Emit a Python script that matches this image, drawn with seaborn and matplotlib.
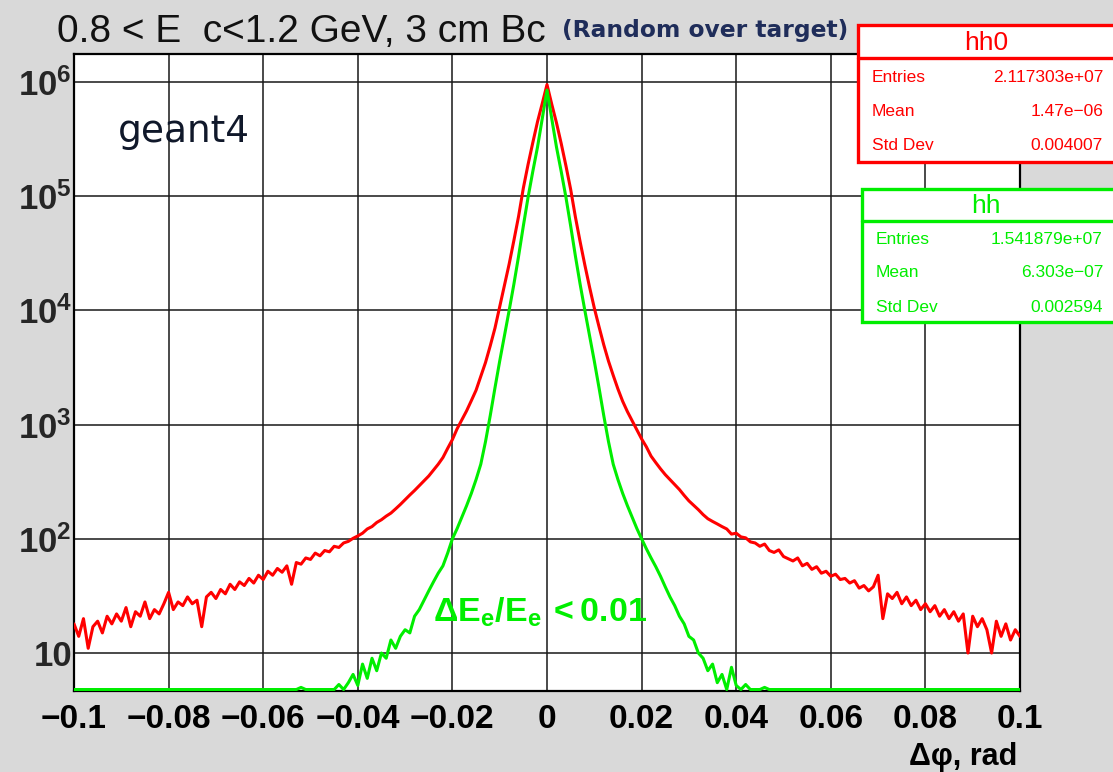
import numpy as np
import pandas as pd
import matplotlib
matplotlib.use("Agg")
import matplotlib.pyplot as plt
import seaborn as sns
from matplotlib.patches import Rectangle
from matplotlib.lines import Line2D
from matplotlib.ticker import FixedLocator, NullFormatter

# ---------------- data ----------------
# bin centres
x_left_tail = np.round(np.arange(-0.100, -0.0205, 0.001), 4)   # -0.100 .. -0.021
x_center = np.round(np.arange(-0.020, 0.0205, 0.001), 4)        # -0.020 .. 0.020
x_right_tail = np.round(np.arange(0.021, 0.1005, 0.001), 4)     # 0.021 .. 0.100

# hh0 (red, all events)
red_left_tail = [18, 14, 20, 11, 17, 19, 15, 21, 18, 22,
                 19, 25, 17, 23, 21, 28, 20, 24, 22, 27,
                 34, 24, 28, 26, 31, 27, 29, 17, 31, 34,
                 30, 36, 33, 40, 36, 42, 39, 45, 41, 48,
                 44, 52, 48, 55, 51, 58, 40, 62, 60, 68,
                 66, 75, 71, 79, 77, 86, 84, 92, 95, 101,
                 106, 112, 122, 128, 139, 147, 158, 168, 183, 200,
                 220, 242, 265, 292, 322, 355, 400, 450, 515, 620]
red_center = [740, 920, 1100, 1320, 1620, 2000, 2650, 3500, 4900, 7000, 10800, 16500, 25500, 41000,
              67000, 118000, 190000, 295000, 450000, 650000,
              950000,
              640000, 440000, 290000, 185000, 115000, 66000, 40000, 25000, 16000, 10500, 7200, 5000,
              3600, 2700, 2050, 1600, 1300, 1080, 900, 750]
red_right_tail = [640, 530, 465, 410, 365, 330, 298, 270, 240, 215,
                  197, 180, 163, 150, 142, 135, 128, 122, 110, 112,
                  104, 102, 94, 92, 86, 90, 79, 76, 80, 70,
                  67, 64, 68, 58, 61, 54, 57, 50, 52, 47,
                  49, 44, 45, 41, 43, 37, 39, 35, 38, 48,
                  20, 33, 30, 34, 27, 31, 26, 29, 24, 27,
                  23, 26, 21, 24, 20, 23, 19, 22, 10, 21,
                  17, 20, 16, 10, 19, 14, 18, 13, 16, 14]

# hh (green, dE/E < 0.01)
green_left_tail = ([0] * 48 + [5.0] + [0] * 7 +
                   [5.3, 0, 5.5, 6.5, 5.2, 8, 6, 9, 7, 10, 9, 13, 11, 14, 16, 15,
                    21, 24, 29, 35, 42, 50, 58, 75])
green_center = [100, 123, 155, 195, 250, 330, 450, 710, 1200, 2100, 3600, 6000, 10000, 17000,
                30000, 55000, 98000, 165000, 270000, 480000,
                850000,
                480000, 270000, 165000, 98000, 55000, 30000, 17000, 10000, 6000, 3600, 2100, 1200,
                710, 450, 330, 250, 195, 155, 123, 100]
green_right_tail = ([82, 68, 57, 47, 38, 31, 26, 21, 18, 14, 13, 10, 9, 7, 8, 5.5, 6.5, 0,
                     7.5, 5.2, 0, 5.3, 0, 0, 0, 5.0] + [0] * 54)

x_ticks = [-0.1, -0.08, -0.06, -0.04, -0.02, 0, 0.02, 0.04, 0.06, 0.08, 0.1]
x_tick_labels = ["\u22120.1", "\u22120.08", "\u22120.06", "\u22120.04", "\u22120.02", "0",
                 "0.02", "0.04", "0.06", "0.08", "0.1"]
y_ticks = [10, 1e2, 1e3, 1e4, 1e5, 1e6]
y_tick_labels = ["10", r"$\mathbf{10^{2}}$", r"$\mathbf{10^{3}}$", r"$\mathbf{10^{4}}$",
                 r"$\mathbf{10^{5}}$", r"$\mathbf{10^{6}}$"]

stats_hh0 = [("Entries", "2.117303e+07"), ("Mean", "1.47e\u221206"), ("Std Dev", "0.004007")]
stats_hh = [("Entries", "1.541879e+07"), ("Mean", "6.303e\u221207"), ("Std Dev", "0.002594")]

# ---------------- figure ----------------
sns.set_style("white")
plt.rcParams["font.family"] = ["Liberation Sans", "DejaVu Sans"]
plt.rcParams["mathtext.fontset"] = "custom"
plt.rcParams["mathtext.rm"] = "Liberation Sans"
plt.rcParams["mathtext.bf"] = "Liberation Sans:bold"

W, H = 1113, 772
fig = plt.figure(figsize=(W / 100, H / 100), dpi=100)
fig.patch.set_facecolor("#d9d9d9")

L, R, T, B = 74, 1020, 54, 691
ax = fig.add_axes([L / W, 1 - B / H, (R - L) / W, (B - T) / H])
ax.set_facecolor("white")

YMIN, YMAX = 4.65, 1.76e6

xs = np.concatenate([x_left_tail, x_center, x_right_tail])
red = np.concatenate([red_left_tail, red_center, red_right_tail]).astype(float)
green = np.concatenate([green_left_tail, green_center, green_right_tail]).astype(float)

df = pd.DataFrame({
    "x": np.concatenate([xs, xs]),
    "counts": np.concatenate([red, green]),
    "hist": ["hh0"] * len(xs) + ["hh"] * len(xs),
})
df["drawn"] = np.maximum(df["counts"], YMIN * 1.03)

sns.lineplot(data=df, x="x", y="drawn", hue="hist", hue_order=["hh0", "hh"],
             palette={"hh0": "#ff0000", "hh": "#00ee00"}, estimator=None,
             linewidth=2.2, legend=False, ax=ax, zorder=3)

ax.set_yscale("log")
ax.set_xlim(-0.1, 0.1)
ax.set_ylim(YMIN, YMAX)

ax.set_xticks(x_ticks)
ax.set_xticklabels(x_tick_labels)
ax.xaxis.set_minor_locator(FixedLocator(np.arange(-0.1, 0.1001, 0.005)))
ax.set_yticks(y_ticks)
ax.set_yticklabels(y_tick_labels)
minors = [m * 10 ** e for e in range(0, 7) for m in range(2, 10)]
ax.yaxis.set_minor_locator(FixedLocator(minors))
ax.yaxis.set_minor_formatter(NullFormatter())

ax.grid(True, which="major", color="#1a1a1a", linewidth=1.3, alpha=0.85)
ax.tick_params(axis="x", which="major", direction="in", length=12, width=1.3,
               labelsize=24, pad=9, colors="black")
ax.tick_params(axis="x", which="minor", direction="in", length=5, width=1.3)
ax.tick_params(axis="y", which="major", direction="in", length=21, width=1.3,
               labelsize=25, pad=1.5)
ax.tick_params(axis="y", which="minor", direction="in", length=11, width=1.6)
for lab in ax.get_xticklabels() + ax.get_yticklabels():
    lab.set_fontweight("bold")
ax.set_xlabel("")
ax.set_ylabel("")
for s in ax.spines.values():
    s.set_linewidth(1.6)
    s.set_color("black")


def fx(px):
    return px / W


def fy(py):
    return 1 - py / H


# title
fig.text(fx(57), fy(32), "0.8 < E  c<1.2 GeV, 3 cm Bc", fontsize=28, ha="left", va="center",
         color="#111111")
fig.text(fx(562), fy(31), "(Random over target)", fontsize=16.8, fontweight="bold",
         family="DejaVu Sans", ha="left", va="center", color="#1f2d5a")

# annotations
fig.text(fx(118), fy(132), "geant4", fontsize=27, family="DejaVu Sans", ha="left",
         va="center", color="#10182a")
fig.text(fx(433), fy(612), r"$\mathbf{\Delta E_{e}/E_{e}\,<0.01}$", fontsize=24.5,
         ha="left", va="center", color="#00ee00")
fig.text(fx(1017), fy(757), "\u0394\u03c6, rad", fontsize=22, fontweight="bold",
         ha="right", va="center", color="black")


# stat boxes
def stat_box(left, top, head, bottom, name, rows, color, row_ys):
    rect = Rectangle((fx(left), fy(bottom)), fx(1130 - left), (bottom - top) / H,
                     transform=fig.transFigure, facecolor="white", edgecolor=color,
                     linewidth=2.4, zorder=10)
    fig.add_artist(rect)
    fig.add_artist(Line2D([fx(left), fx(1130)], [fy(head), fy(head)],
                          transform=fig.transFigure, color=color, linewidth=2.4, zorder=11))
    fig.text(fx(986), fy((top + head) / 2 + 1), name, fontsize=19, ha="center", va="center",
             color=color, zorder=12)
    for (k, v), yy in zip(rows, row_ys):
        fig.text(fx(left + 14), fy(yy), k, fontsize=12.5, ha="left", va="center",
                 color=color, zorder=12)
        fig.text(fx(1103), fy(yy), v, fontsize=12.5, ha="right", va="center",
                 color=color, zorder=12)


stat_box(858, 25, 58, 162, "hh0", stats_hh0, "#ff0000", [77, 112, 146])
stat_box(862, 189, 221, 322, "hh", stats_hh, "#00ee00", [240, 273, 307])

fig.savefig("out.png", dpi=100, facecolor=fig.get_facecolor())
